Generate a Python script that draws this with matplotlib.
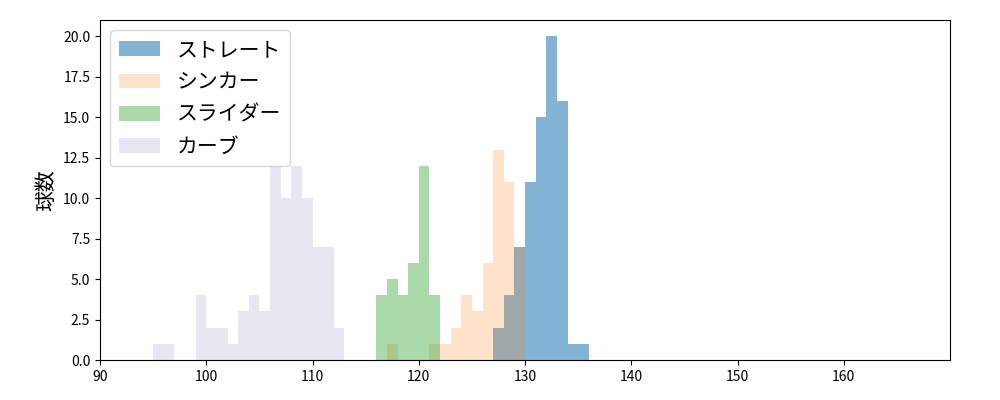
import matplotlib.pyplot as plt
import numpy as np

plt.rcParams['font.family'] = ['Noto Sans CJK JP', 'DejaVu Sans']

# bin left edge -> count (1 km/h bins)
straight_speed = [127, 128, 129, 130, 131, 132, 133, 134, 135]
straight_count = [2, 4, 7, 11, 15, 20, 16, 1, 1]
sinker_speed = [117, 121, 122, 123, 124, 125, 126, 127, 128, 129]
sinker_count = [1, 1, 1, 2, 4, 3, 6, 13, 11, 7]
slider_speed = [116, 117, 118, 119, 120, 121]
slider_count = [4, 5, 4, 6, 12, 4]
curve_speed = [95, 96, 99, 100, 101, 102, 103, 104, 105, 106, 107, 108, 109, 110, 111, 112]
curve_count = [1, 1, 4, 2, 2, 1, 3, 4, 3, 12, 10, 12, 10, 7, 7, 2]

bins = np.arange(90, 171, 1)
fig, ax = plt.subplots(figsize=(10, 4), dpi=100)
ax.hist(straight_speed, bins=bins, weights=straight_count, color='#1f77b4', alpha=0.55, label='ストレート')
ax.hist(sinker_speed, bins=bins, weights=sinker_count, color='#ff7f0e', alpha=0.22, label='シンカー')
ax.hist(slider_speed, bins=bins, weights=slider_count, color='#2ca02c', alpha=0.4, label='スライダー')
ax.hist(curve_speed, bins=bins, weights=curve_count, color='#d8d8ea', alpha=0.6, label='カーブ')

ax.set_xlim(90, 170)
ax.set_xticks(range(90, 170, 10))
ax.set_yticks(np.arange(0, 20.1, 2.5))
ax.set_ylabel('球数', fontsize=15)
ax.legend(loc='upper left', fontsize=15)
plt.subplots_adjust(left=0.1, right=0.95, top=0.95, bottom=0.1)
plt.savefig('out.png')
